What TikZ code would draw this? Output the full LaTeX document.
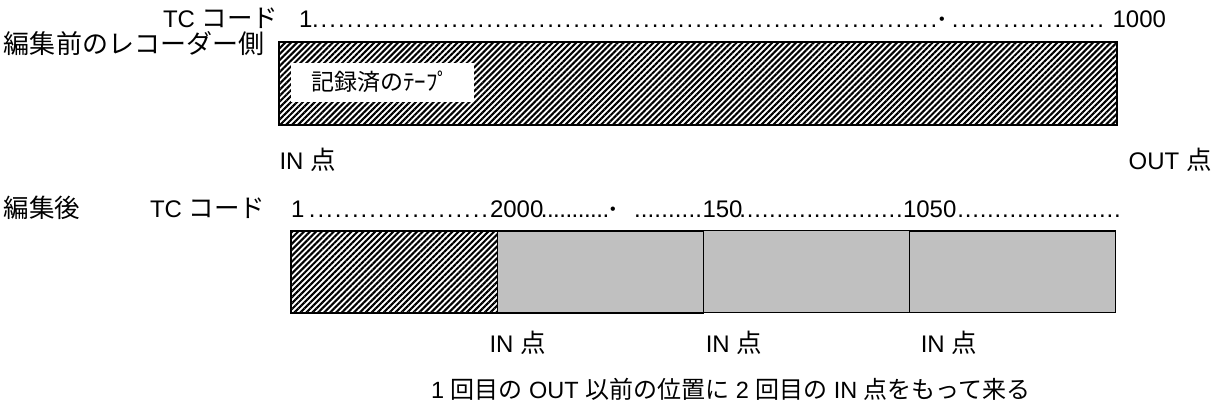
\documentclass[tikz,border=0pt]{standalone}
\usepackage{fontspec}
\setmainfont{Liberation Sans}
\newfontfamily\jpf{Noto Sans CJK JP}
\usetikzlibrary{patterns.meta}
\definecolor{tapegray}{RGB}{192,192,192}
\newcommand\jp[1]{{\jpf\fontsize{25.5}{30}\selectfont #1}}
\newcommand\jps[1]{{\jpf\fontsize{24}{29}\selectfont #1}}
\newcommand\dotrun[2]{\hbox to #1pt{\xleaders\hbox to #2pt{\hss.\hss}\hfill}}
\newcommand\middot{\raisebox{3pt}{\fontsize{16}{16}\selectfont •}}
\begin{document}
\begin{tikzpicture}[x=1pt,y=-1pt,
  every node/.style={inner sep=0pt, outer sep=0pt, font=\fontsize{24}{29}\selectfont},
  bar/.style={draw=black, line width=1.5pt, anchor=north west},
  hatchbar/.style={bar, pattern={Lines[angle=45,distance=4.2pt,line width=2.1pt]}},
  tapebar/.style={bar, fill=tapegray},
  lbl/.style={anchor=base west},
  lble/.style={anchor=base east},
  lblc/.style={anchor=base}]
\useasboundingbox (0,0) rectangle (1215,405);

% ---- before editing ----
\node[lbl] (tc1) at (163,27) {TC \jp{コード}};
\node[lbl] (tc1one) at (299,27) {1};
\node[lbl] (tc1dotsA) at (311,27) {\dotrun{627}{8.7}};
\node[lblc] (tc1mid) at (942,27) {\middot};
\node[lbl] (tc1dotsB) at (951,27) {\dotrun{154}{8.5}};
\node[lble] (tc1end) at (1166,27) {1000};

\node[anchor=west] (beforelbl) at (4,44) {\jpf\fontsize{26}{31}\selectfont 編集前のレコーダー側};
\node[hatchbar, minimum width=838pt, minimum height=83pt] (before) at (279,42) {};
\node[fill=white, anchor=north west, minimum width=183pt, minimum height=39pt] (recbox) at (291,63) {};
\node[anchor=west] (rectxt) at (311,82) {\jpf\fontsize{23}{27}\selectfont 記録済のﾃｰﾌﾟ};

\node[lbl] (inA) at (279.5,169) {IN \jp{点}};
\node[lble] (outA) at (1211.5,169) {OUT \jp{点}};

% ---- after editing ----
\node[anchor=west] (afterlbl) at (4,207.5) {\jp{編集後}};
\node[lbl] (tc2) at (150,217) {TC \jp{コード}};
\node[lbl] (tc2one) at (291,217) {1};
\node[lbl] (tc2dotsA) at (308,217) {\dotrun{181}{8.6}};
\node[lbl] (t2000) at (490,217) {2000};
\node[lbl] (tc2dotsB) at (541,217) {\dotrun{68}{6}};
\node[lblc] (tc2mid) at (613,217) {\middot};
\node[lbl] (tc2dotsC) at (634,217) {\dotrun{68}{6.8}};
\node[lbl] (t150) at (702.5,217) {150};
\node[lbl] (tc2dotsD) at (739,217) {\dotrun{164}{7.4}};
\node[lbl] (t1050) at (903,217) {1050};
\node[lbl] (tc2dotsE) at (957,217) {\dotrun{164}{7.4}};

\node[hatchbar, minimum width=206.5pt, minimum height=82pt] (seg0) at (291,231) {};
\node[tapebar, minimum width=205.8pt, minimum height=82pt] (seg1) at (497.5,231) {};
\node[tapebar, minimum width=206pt, minimum height=82pt] (seg2) at (703.3,230.5) {};
\node[tapebar, minimum width=206.4pt, minimum height=81.5pt] (seg3) at (909.3,231) {};

\node[lbl] (inB) at (489.5,352) {IN \jp{点}};
\node[lbl] (inC) at (705.8,352) {IN \jp{点}};
\node[lbl] (inD) at (920.8,352) {IN \jp{点}};

\node[lbl, font=\fontsize{23.5}{28}\selectfont] (note) at (431,398) {1 \jps{回目の} OUT \jps{以前の位置に} 2 \jps{回目の} IN \jps{点をもって来る}};
\end{tikzpicture}
\end{document}
